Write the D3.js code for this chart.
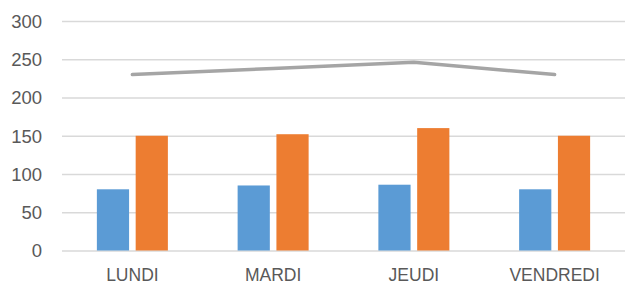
<!DOCTYPE html>
<html>
<head>
<meta charset="utf-8">
<script src="https://cdn.jsdelivr.net/npm/d3@7"></script>
<style>
  body { margin: 0; background: #fff; }
  svg text { font-family: "Liberation Sans", Arial, sans-serif; fill: #595959; }
</style>
</head>
<body>
<svg id="chart"></svg>
<script>
const days = ["LUNDI", "MARDI", "JEUDI", "VENDREDI"];
const serieBleue = [80, 85, 86, 80];
const serieOrange = [150, 152, 160, 150];
const serieLigne = [230, 238, 246, 230];
const yTicks = [0, 50, 100, 150, 200, 250, 300];

const chartSize = {width: 626, height: 286};
const margin = {left: 62, right: 1, top: 21, bottom: 35.5};
const width = chartSize.width - margin.left - margin.right;
const height = chartSize.height - margin.top - margin.bottom;

const svg = d3.select("#chart")
  .attr("width", chartSize.width)
  .attr("height", chartSize.height);

const g = svg.append("g")
  .attr("transform", `translate(${margin.left},${margin.top})`);

const x = d3.scaleBand().domain(days).range([0, width]);
const y = d3.scaleLinear().domain([0, 300]).range([height, 0]);
const xInner = d3.scaleBand().domain(["bleu", "orange"])
  .range([-35.5, 35.5]).paddingInner(0.17);

// grille + labels y
const yAxis = d3.axisLeft(y).tickValues(yTicks).tickSize(-width).tickPadding(20);
g.append("g").call(yAxis)
  .call(a => a.select(".domain").remove())
  .call(a => a.selectAll("line").attr("stroke", "#d9d9d9").attr("stroke-width", 1.5))
  .call(a => a.selectAll("text").attr("font-size", 18.5).attr("dy", "0.35em")
    .style("fill", "#595959"));

// labels x
const xAxis = d3.axisBottom(x).tickSize(0).tickPadding(18);
g.append("g").attr("transform", `translate(0,${height})`).call(xAxis)
  .call(a => a.select(".domain").remove())
  .call(a => a.selectAll("text").attr("font-size", 17.5).style("fill", "#595959"));

const groups = [
  {key: "bleu", values: serieBleue, color: "#5b9bd5"},
  {key: "orange", values: serieOrange, color: "#ed7d31"}
];

groups.forEach(s => {
  g.append("g").selectAll("rect")
    .data(s.values)
    .enter()
    .append("rect")
    .attr("x", (v, i) => x(days[i]) + x.bandwidth() / 2 + xInner(s.key))
    .attr("y", v => y(v))
    .attr("width", xInner.bandwidth())
    .attr("height", v => y(0) - y(v))
    .attr("fill", s.color);
});

const line = d3.line()
  .x((v, i) => x(days[i]) + x.bandwidth() / 2)
  .y(v => y(v));

g.append("path")
  .datum(serieLigne)
  .attr("d", line)
  .attr("fill", "none")
  .attr("stroke", "#a5a5a5")
  .attr("stroke-width", 3.5)
  .attr("stroke-linecap", "round");
</script>
</body>
</html>
